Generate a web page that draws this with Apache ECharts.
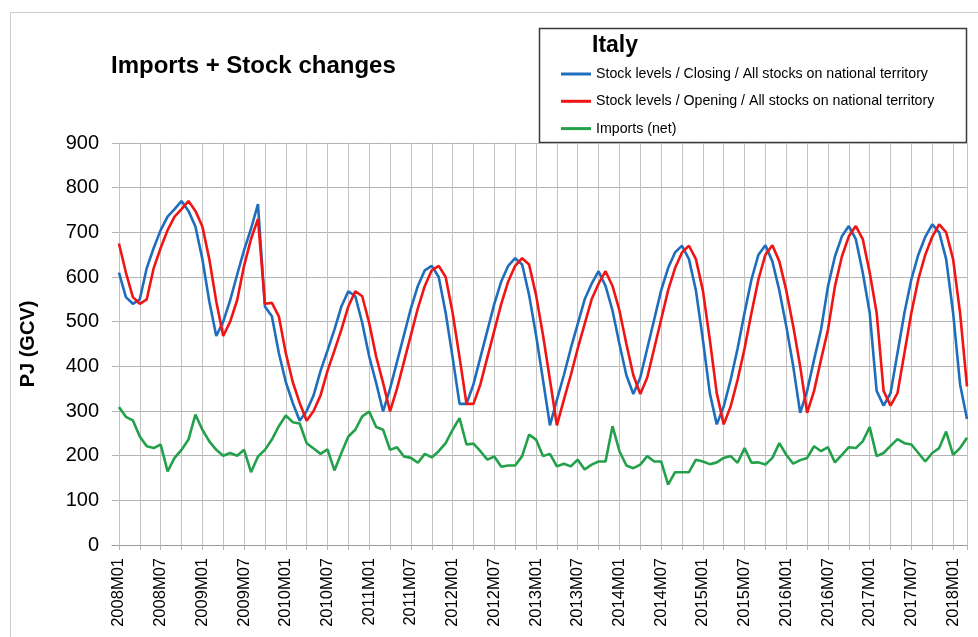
<!DOCTYPE html>
<html>
<head>
<meta charset="utf-8">
<script src="https://cdn.jsdelivr.net/npm/echarts@6/dist/echarts.min.js"></script>
<style>
  html, body { margin: 0; background: #fff; }
  #chart { width: 978px; height: 637px; }
</style>
</head>
<body>
<div id="chart"></div>
<script>
// months on the x axis (first slot is empty, as in the source chart)
const months = [
  '2007M12',
  '2008M01','2008M02','2008M03','2008M04','2008M05','2008M06','2008M07','2008M08','2008M09','2008M10','2008M11','2008M12',
  '2009M01','2009M02','2009M03','2009M04','2009M05','2009M06','2009M07','2009M08','2009M09','2009M10','2009M11','2009M12',
  '2010M01','2010M02','2010M03','2010M04','2010M05','2010M06','2010M07','2010M08','2010M09','2010M10','2010M11','2010M12',
  '2011M01','2011M02','2011M03','2011M04','2011M05','2011M06','2011M07','2011M08','2011M09','2011M10','2011M11','2011M12',
  '2012M01','2012M02','2012M03','2012M04','2012M05','2012M06','2012M07','2012M08','2012M09','2012M10','2012M11','2012M12',
  '2013M01','2013M02','2013M03','2013M04','2013M05','2013M06','2013M07','2013M08','2013M09','2013M10','2013M11','2013M12',
  '2014M01','2014M02','2014M03','2014M04','2014M05','2014M06','2014M07','2014M08','2014M09','2014M10','2014M11','2014M12',
  '2015M01','2015M02','2015M03','2015M04','2015M05','2015M06','2015M07','2015M08','2015M09','2015M10','2015M11','2015M12',
  '2016M01','2016M02','2016M03','2016M04','2016M05','2016M06','2016M07','2016M08','2016M09','2016M10','2016M11','2016M12',
  '2017M01','2017M02','2017M03','2017M04','2017M05','2017M06','2017M07','2017M08','2017M09','2017M10','2017M11','2017M12',
  '2018M01','2018M02','2018M03'
];

// Stock levels / Closing
const closing = [null,
  610,555,540,550,620,665,705,735,752,770,
  748,713,640,545,468,500,548,605,660,708,
  763,534,512,430,365,318,278,300,335,390,
  435,482,534,568,557,497,422,363,299,350,
  410,470,530,580,615,625,600,520,420,316,
  316,360,420,480,540,590,625,642,628,560,
  470,370,268,325,380,440,495,550,585,613,
  580,525,450,380,338,375,440,505,570,620,
  655,670,640,570,460,340,270,310,370,440,
  520,595,650,671,635,570,490,400,296,345,
  415,482,579,646,691,714,685,610,520,345,
  312,340,430,520,595,650,690,718,700,640,
  520,360,282
];

// Stock levels / Opening
const opening = [null,
  675,610,555,540,550,620,665,705,735,752,
  770,748,713,640,545,468,500,548,625,685,
  730,540,542,512,430,365,318,278,300,335,
  390,435,482,534,568,557,497,422,363,299,
  350,410,470,530,580,615,625,600,520,420,
  316,316,360,420,480,540,590,625,642,628,
  560,470,370,268,325,380,440,495,550,585,
  613,580,525,450,380,338,375,440,505,570,
  620,655,670,640,570,460,340,270,310,370,
  440,520,595,650,671,635,570,490,400,296,
  345,415,482,579,646,691,714,685,610,520,
  345,312,340,430,520,595,650,690,718,700,
  640,520,355
];

// Imports (net)
const imports = [null,
  309,287,279,243,221,217,225,165,195,213,
  236,292,258,232,213,200,206,200,213,163,
  198,213,236,266,290,275,272,228,216,204,
  214,167,206,243,258,288,299,264,258,213,
  219,198,195,184,204,196,210,228,258,284,
  225,227,210,191,198,175,178,178,199,247,
  236,199,204,176,182,176,191,169,180,187,
  187,266,210,178,172,180,199,187,187,135,
  163,163,163,191,187,181,185,195,199,184,
  217,184,185,180,195,228,202,182,190,195,
  221,210,219,185,202,219,217,232,264,199,
  206,222,237,228,225,206,187,206,217,254,
  202,217,240
];

const seriesNames = [
  'Stock levels / Closing / All stocks on national territory',
  'Stock levels / Opening / All stocks on national territory',
  'Imports (net)'
];
const seriesColors = ['#1f6dbd', '#f01414', '#22a04a'];

const lastIdx = months.length - 1;
const every3 = (i) => (i - 1) % 3 === 0 || i === lastIdx;
const every6 = (i) => (i - 1) % 6 === 0;

const chart = echarts.init(document.getElementById('chart'));

const lineSeries = (name, data, color) => ({
  name: name,
  type: 'line',
  data: data,
  symbol: 'none',
  lineStyle: { width: 2.6, color: color },
  itemStyle: { color: color }
});

chart.setOption({
  animation: false,
  textStyle: { fontFamily: 'Liberation Sans, Arial, sans-serif', color: '#000' },
  title: [
    {
      text: 'Imports + Stock changes',
      left: 106, top: 49,
      textStyle: { fontSize: 24, fontWeight: 'bold', color: '#000', fontFamily: 'Liberation Sans' }
    },
    {
      text: 'Italy',
      left: 587, top: 29,
      textStyle: { fontSize: 23, fontWeight: 'bold', color: '#000', fontFamily: 'Liberation Sans' }
    }
  ],
  legend: {
    orient: 'vertical',
    left: 556, top: 61,
    icon: 'rect',
    itemWidth: 30, itemHeight: 3, itemGap: 11.3,
    textStyle: { fontFamily: 'Liberation Sans', fontSize: 14.2, lineHeight: 16, color: '#000' },
    data: seriesNames
  },
  grid: { left: 112, right: 11, top: 143, bottom: 92 },
  graphic: [
    {
      type: 'rect', silent: true, z: -10,
      shape: { x: 10.5, y: 12.5, width: 1000, height: 700 },
      style: { fill: 'none', stroke: '#cccccc', lineWidth: 1 }
    },
    {
      type: 'rect', silent: true,
      shape: { x: 539.5, y: 28.5, width: 427, height: 114 },
      style: { fill: '#fff', stroke: '#3a3a3a', lineWidth: 1.5 }
    }
  ],
  xAxis: {
    type: 'category',
    data: months,
    boundaryGap: false,
    axisLine: { lineStyle: { color: '#9a9a9a' } },
    axisTick: { interval: every3, length: 5, lineStyle: { color: '#b4b4b4' } },
    axisLabel: { interval: every6, rotate: 90, fontSize: 16.5, margin: 13, color: '#000' },
    splitLine: { show: true, interval: every3, lineStyle: { color: '#c2c2c2' } }
  },
  yAxis: {
    type: 'value',
    min: 0, max: 900, interval: 100,
    name: 'PJ (GCV)',
    nameLocation: 'middle',
    nameGap: 74,
    nameTextStyle: { fontSize: 20, fontWeight: 'bold', color: '#000' },
    axisLine: { show: false },
    axisTick: { show: false },
    axisLabel: { fontSize: 20, margin: 13, color: '#000' },
    splitLine: { lineStyle: { color: '#b4b4b4' } }
  },
  series: [
    lineSeries(seriesNames[0], closing, seriesColors[0]),
    lineSeries(seriesNames[1], opening, seriesColors[1]),
    lineSeries(seriesNames[2], imports, seriesColors[2])
  ]
});
</script>
</body>
</html>
